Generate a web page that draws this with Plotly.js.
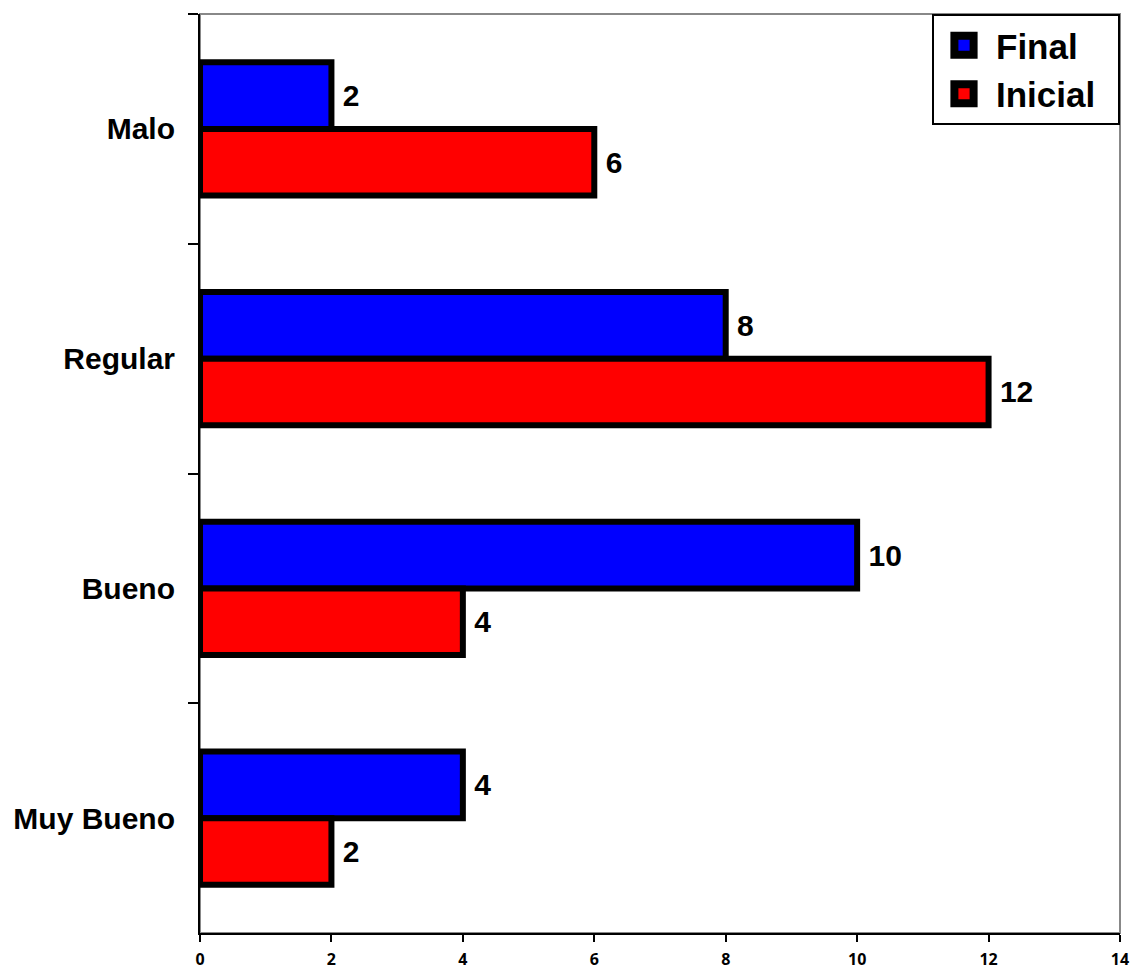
<!DOCTYPE html>
<html>
<head>
<meta charset="utf-8">
<script src="https://cdn.plot.ly/plotly-3.0.1.min.js"></script>
<style>html,body{margin:0;padding:0;background:#fff;}#chart{width:1133px;height:972px;}</style>
</head>
<body>
<div id="chart"></div>
<script>
var categories = ["Malo", "Regular", "Bueno", "Muy Bueno"];
var finalValues = [2, 8, 10, 4];
var inicialValues = [6, 12, 4, 2];
var xTicks = [0, 2, 4, 6, 8, 10, 12, 14];

var FONT = "Liberation Sans, Arial, sans-serif";

function series(name, vals, color) {
  return {
    type: "bar",
    orientation: "h",
    name: name,
    y: categories,
    x: vals,
    texttemplate: "\u00a0%{x}",
    textposition: "outside",
    cliponaxis: false,
    textfont: {family: FONT, size: 30, color: "#000", weight: "bold"},
    marker: {color: color, line: {color: "#000", width: 6}},
    hoverinfo: "x+y+name"
  };
}

var data = [
  series("Final", finalValues, "#0000ff"),
  series("Inicial", inicialValues, "#ff0000")
];

var layout = {
  width: 1133,
  height: 972,
  margin: {l: 200, r: 13, t: 14, b: 39, pad: 0},
  paper_bgcolor: "#fff",
  plot_bgcolor: "#fff",
  barmode: "group",
  bargap: 0.42,
  bargroupgap: 0,
  showlegend: true,
  legend: {
    x: 1, xanchor: "right", y: 1, yanchor: "top",
    bgcolor: "#fff", bordercolor: "#000", borderwidth: 2,
    font: {family: FONT, size: 35, color: "#000", weight: "bold"},
    traceorder: "normal"
  },
  xaxis: {
    range: [0, 14],
    tickvals: xTicks,
    ticktext: xTicks.map(String),
    ticks: "outside",
    ticklen: 7,
    tickwidth: 2,
    tickcolor: "#000",
    showline: true,
    linecolor: "#000",
    linewidth: 2,
    showgrid: false,
    zeroline: false,
    ticklabelstandoff: 4,
    tickfont: {family: "Open Sans, sans-serif", size: 16, color: "#000", weight: "bold"}
  },
  yaxis: {
    type: "category",
    categoryorder: "array",
    categoryarray: categories,
    autorange: "reversed",
    tickson: "boundaries",
    ticks: "outside",
    ticklen: 10,
    tickwidth: 2,
    tickcolor: "#000",
    showline: true,
    linecolor: "#000",
    linewidth: 2,
    showgrid: false,
    zeroline: false,
    ticklabelstandoff: 17,
    tickfont: {family: FONT, size: 30, color: "#000", weight: "bold"}
  },
  shapes: [{
    type: "rect", xref: "paper", yref: "paper", x0: 0, x1: 1, y0: 0, y1: 1,
    line: {color: "#888", width: 2}, layer: "below"
  }]
};

Plotly.newPlot("chart", data, layout, {displayModeBar: false, staticPlot: true}).then(function (gd) {
  var BOXW = 186;
  var leg = gd.querySelector(".legend");
  if (!leg) return;
  var bg = leg.querySelector("rect.bg");
  var oldW = bg ? parseFloat(bg.getAttribute("width")) : BOXW;
  if (bg) bg.setAttribute("width", BOXW);
  var sb = leg.querySelector(".scrollbox");
  if (sb) sb.removeAttribute("clip-path");
  var tr = leg.getAttribute("transform") || "";
  var m = tr.match(/translate\(\s*([-\d.]+)[ ,]+([-\d.]+)\s*\)/);
  if (m) {
    var nx = parseFloat(m[1]) + oldW - BOXW;
    leg.setAttribute("transform", "translate(" + nx + "," + m[2] + ")");
  }
  leg.querySelectorAll(".legendpoints path").forEach(function (p) {
    p.setAttribute("transform", "translate(30,0) scale(1.6)");
    p.style.strokeWidth = "5px";
  });
  leg.querySelectorAll("text.legendtext").forEach(function (t) {
    t.setAttribute("x", 62);
    t.querySelectorAll("tspan").forEach(function (s) { if (s.hasAttribute("x")) s.setAttribute("x", 62); });
  });
});
</script>
</body>
</html>
